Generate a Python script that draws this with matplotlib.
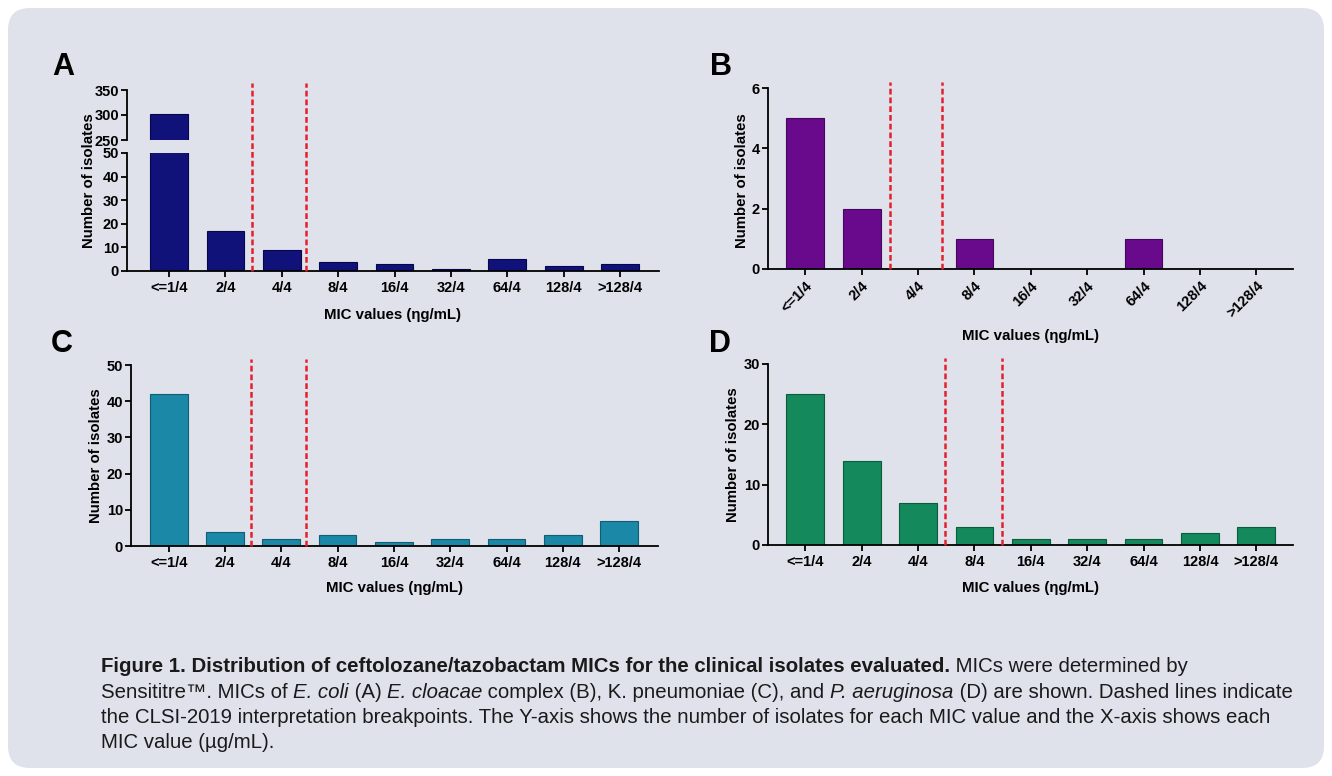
import matplotlib
matplotlib.use("Agg")
import matplotlib.pyplot as plt
import matplotlib.transforms as mtransforms
from matplotlib.patches import FancyBboxPatch

plt.rcParams['font.family'] = ['Liberation Sans', 'DejaVu Sans']
plt.rcParams['font.weight'] = 'bold'
plt.rcParams['axes.labelweight'] = 'bold'

# data
mic_labels = ["<=1/4", "2/4", "4/4", "8/4", "16/4", "32/4", "64/4", "128/4", ">128/4"]
counts_a = [303, 17, 9, 4, 3, 1, 5, 2, 3]
counts_b = [5, 2, 0, 1, 0, 0, 1, 0, 0]
counts_c = [42, 4, 2, 3, 1, 2, 2, 3, 7]
counts_d = [25, 14, 7, 3, 1, 1, 1, 2, 3]
breaks_a = [1.47, 2.43]
breaks_b = [1.51, 2.43]
breaks_c = [1.47, 2.43]
breaks_d = [2.48, 3.49]

W, H = 1332, 776
BG = "#dfe1eb"
RED = "#e3202c"
TICK_SIZE = 10.5
LABEL_SIZE = 10.8

fig = plt.figure(figsize=(W / 100, H / 100), dpi=100)
fig.patch.set_facecolor("white")

bg = fig.add_axes([0, 0, 1, 1], zorder=-5)
bg.set_xlim(0, W)
bg.set_ylim(H, 0)
bg.axis("off")
bg.add_patch(FancyBboxPatch((8, 8), W - 16, H - 16,
                            boxstyle="round,pad=0,rounding_size=22",
                            facecolor=BG, edgecolor="none"))


def px_axes(left, top, right, bottom):
    return fig.add_axes([left / W, 1 - bottom / H, (right - left) / W, (bottom - top) / H])


def style(ax):
    ax.set_facecolor("none")
    ax.spines["top"].set_visible(False)
    ax.spines["right"].set_visible(False)
    ax.spines["left"].set_linewidth(1.3)
    ax.spines["bottom"].set_linewidth(1.3)
    ax.tick_params(direction="out", length=4.5, width=1.3, labelsize=TICK_SIZE)
    ax.tick_params(axis="y", pad=1.2)
    ax.tick_params(axis="x", pad=2.5)


def draw_bars(ax, counts, face, edge):
    x = list(range(len(counts)))
    ax.bar(x, counts, width=0.67, color=face, edgecolor=edge, linewidth=0.8, zorder=2)
    ax.set_xticks(x)
    ax.set_xticklabels(mic_labels)


def draw_breaks(ax, breaks, top_frac):
    trans = mtransforms.blended_transform_factory(ax.transData, ax.transAxes)
    for b in breaks:
        ax.plot([b, b], [0, top_frac], transform=trans, color=RED, lw=1.8,
                dashes=(2.3, 1.2), clip_on=False, zorder=3)


def labels(ax, ylab_xy, xlab_y):
    ax.set_ylabel("Number of isolates", fontsize=LABEL_SIZE, va="center")
    ax.yaxis.set_label_coords(*ylab_xy)
    ax.set_xlabel("MIC values (ηg/mL)", fontsize=LABEL_SIZE, va="center")
    ax.xaxis.set_label_coords(0.5, xlab_y)


# panel A (broken axis)
axa = px_axes(127, 153, 659, 271)
axa_top = px_axes(127, 90, 659, 140)
for ax in (axa, axa_top):
    style(ax)
    draw_bars(ax, counts_a, "#11117a", "#06064a")
    ax.set_xlim(-0.745, 8.69)
axa.set_ylim(0, 50)
axa.set_yticks([0, 10, 20, 30, 40, 50])
axa_top.set_ylim(250, 350)
axa_top.set_yticks([250, 300, 350])
axa_top.spines["bottom"].set_visible(False)
axa_top.tick_params(axis="x", bottom=False, labelbottom=False)
draw_breaks(axa, breaks_a, (271 - 83) / 118)
labels(axa, (-0.072, 0.77), -0.373)

# panel B
axb = px_axes(768, 88, 1293, 269)
style(axb)
draw_bars(axb, counts_b, "#690a8c", "#470562")
axb.set_xlim(-0.66, 8.65)
axb.set_ylim(0, 6)
axb.set_yticks([0, 2, 4, 6])
for lab in axb.get_xticklabels():
    lab.set_rotation(45)
    lab.set_ha("right")
    lab.set_rotation_mode("anchor")
draw_breaks(axb, breaks_b, 1 + 6 / 181)
labels(axb, (-0.05, 0.49), -0.37)

# panel C
axc = px_axes(131, 365, 658, 546)
style(axc)
draw_bars(axc, counts_c, "#1a88a6", "#0e5e74")
axc.set_xlim(-0.67, 8.69)
axc.set_ylim(0, 50)
axc.set_yticks([0, 10, 20, 30, 40, 50])
draw_breaks(axc, breaks_c, 1 + 6 / 181)
labels(axc, (-0.066, 0.5), -0.232)

# panel D
axd = px_axes(768, 364, 1293, 545)
style(axd)
draw_bars(axd, counts_d, "#14895b", "#0a5c3b")
axd.set_xlim(-0.66, 8.65)
axd.set_ylim(0, 30)
axd.set_yticks([0, 10, 20, 30])
draw_breaks(axd, breaks_d, 1 + 6 / 181)
labels(axd, (-0.067, 0.5), -0.238)

# panel letters
for letter, x, y in [("A", 63, 67), ("B", 721, 67), ("C", 62, 344), ("D", 720, 344)]:
    bg.text(x, y, letter, fontsize=22, fontweight="bold", ha="center", va="center")

# caption, built from runs of differently styled text
caption = [
    [("Figure 1. Distribution of ceftolozane/tazobactam MICs for the clinical isolates evaluated.", "bold", "normal"),
     (" MICs were determined by", "normal", "normal")],
    [("Sensititre™. MICs of ", "normal", "normal"), ("E. coli", "normal", "italic"),
     (" (A) ", "normal", "normal"), ("E. cloacae", "normal", "italic"),
     (" complex (B), K. pneumoniae (C), and ", "normal", "normal"),
     ("P. aeruginosa", "normal", "italic"),
     (" (D) are shown. Dashed lines indicate", "normal", "normal")],
    [("the CLSI-2019 interpretation breakpoints. The Y-axis shows the number of isolates for each MIC value and the X-axis shows each", "normal", "normal")],
    [("MIC value (µg/mL).", "normal", "normal")],
]
cap_size = 14.7
for i, runs in enumerate(caption):
    y = 672 + i * 25.5
    prev = None
    for txt, weight, fstyle in runs:
        if prev is None:
            prev = bg.text(101, y, txt, fontsize=cap_size, fontweight=weight,
                           fontstyle=fstyle, ha="left", va="baseline", color="#1a1a1a")
        else:
            prev = bg.annotate(txt, xy=(1, 0), xycoords=prev, fontsize=cap_size,
                               fontweight=weight, fontstyle=fstyle, ha="left",
                               va="bottom", color="#1a1a1a")

fig.savefig("out.png", dpi=100, facecolor=fig.get_facecolor())
